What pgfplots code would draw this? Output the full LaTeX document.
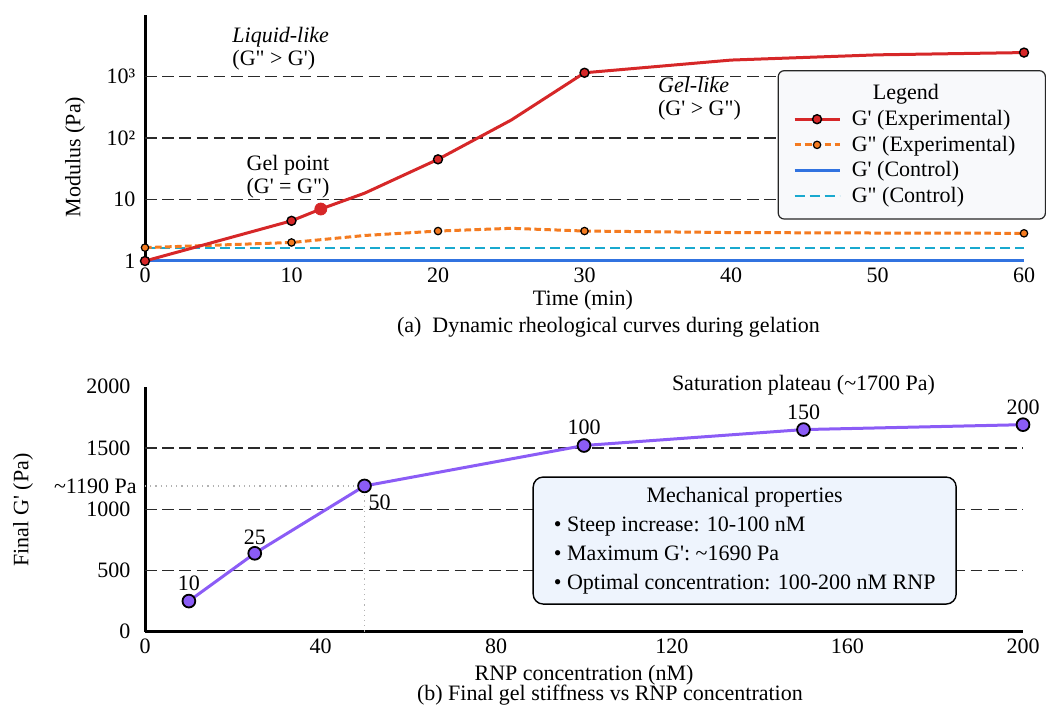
\documentclass[border=0pt]{standalone}
\usepackage{fontspec}
\setmainfont{Liberation Serif}[Ligatures=TeXOff]
\usepackage{pgfplots}
\pgfplotsset{compat=1.18}
\definecolor{cRed}{HTML}{D62728}
\definecolor{cOrange}{HTML}{F47B20}
\definecolor{cBlue}{HTML}{3173E0}
\definecolor{cCyan}{HTML}{19A9CF}
\definecolor{cPurple}{HTML}{8B5CF6}
\definecolor{cGrid}{HTML}{2A2A2A}
\definecolor{legfill}{HTML}{F8F9FB}
\definecolor{boxfill}{HTML}{EEF4FD}
\newcommand{\fs}{\fontsize{11}{12.5}\selectfont}
\pgfplotsset{
 gpexp/.style={cRed, line width=1.5pt, mark=*, mark size=2.25pt, mark options={solid, fill=cRed, draw=black, line width=0.7pt}},
 gppexp/.style={cOrange, line width=1.5pt, dash pattern=on 3.3pt off 1.7pt, mark=*, mark size=1.85pt, mark options={solid, fill=cOrange, draw=black, line width=0.6pt}},
 gpctl/.style={cBlue, line width=1.5pt},
 gppctl/.style={cCyan, line width=1pt, dash pattern=on 5pt off 2.5pt},
 common/.style={
   scale only axis, anchor=south west,
   axis x line*=bottom, axis y line*=left,
   axis line style={-, line width=1.5pt, black},
   major tick length=0pt, minor tick length=0pt,
   tick label style={font=\fs},
   /pgf/number format/assume math mode=true,
   /pgf/number format/1000 sep={},
   clip=false,
   extra y tick labels={},
   extra y tick style={grid=major, major grid style={dash pattern=on 5.8pt off 2.8pt, line width=0.65pt, cGrid}},
 },
}
\begin{document}
\begin{tikzpicture}[x=1pt,y=1pt]
\useasboundingbox (0,0) rectangle (523.5,356);
% ---------- (a) ----------
\begin{axis}[common,
  at={(72.5pt,225.5pt)}, width=439.5pt, height=123pt,
  xmin=0, xmax=60, ymode=log, ymin=1, ymax=1e4,
  xtick={0,10,...,60},
  ytick={1,10,100,1000}, yticklabels={1,10,10²,10³},
  extra y ticks={10,100,1000},
  yticklabel style={xshift=-1.3pt},
  legend image code/.code={\draw[mark repeat=2,mark phase=2,#1] plot coordinates {(0pt,0pt) (11.25pt,0pt) (22.5pt,0pt)};},
  legend style={at={(1.025,0.776)}, anchor=north east, draw=black!85, fill=legfill,
     rounded corners=3pt, line width=0.6pt, font=\fs, inner xsep=7.4pt, inner ysep=5pt,
     row sep=0pt, cells={anchor=west}, nodes={inner xsep=1.6pt, inner ysep=1.85pt},
     /tikz/every odd column/.append style={column sep=3.8pt}},
  legend entries={\rule{10.5pt}{0pt}Legend, G' (Experimental), G\textquotedbl{} (Experimental)\rule{6pt}{0pt}, G' (Control), G\textquotedbl{} (Control)},
]
\addlegendimage{empty legend}
\addlegendimage{gpexp}
\addlegendimage{gppexp}
\addlegendimage{gpctl}
\addlegendimage{gppctl}
\addplot[gpctl, forget plot] coordinates {(0,1.02) (60,1.02)};
\addplot[gppctl, forget plot] coordinates {(0,1.62) (60,1.62)};
\addplot[gppexp, forget plot, mark indices={1,2,4,6,9}] coordinates {
 (0,1.65) (10,2.0) (15,2.6) (20,3.07) (25,3.4) (30,3.07) (40,2.9) (50,2.85) (60,2.82)};
\addplot[gpexp, forget plot, mark indices={1,2,5,7,10}] coordinates {
 (0,1) (10,4.5) (12,7.0) (15,12.7) (20,45) (25,196) (30,1150) (40,1850) (50,2250) (60,2450)};
\addplot[forget plot, only marks, mark=*, mark size=3pt, color=cRed] coordinates {(12,7.0)};
\node[anchor=west, align=left, font=\fontsize{11}{11.5}\selectfont, inner sep=0pt] at (axis cs:5.94,2850) {\textit{Liquid-like}\\(G\textquotedbl{} > G')};
\node[align=center, font=\fontsize{11}{11.5}\selectfont, inner sep=0pt] at (axis cs:9.76,23.7) {Gel point\\(G' = G\textquotedbl)};
\node[anchor=west, align=left, font=\fontsize{11}{11.5}\selectfont, inner sep=0pt] at (axis cs:35.0,439) {\textit{Gel-like}\\(G' > G\textquotedbl)};
\end{axis}
\node[rotate=90, font=\fs] at (37.5,277.5) {Modulus (Pa)};
\node[font=\fs] at (291.5,206) {Time (min)};
\node[anchor=west, font=\fs] at (195,192.5) {(a)\ \ Dynamic rheological curves during gelation};
% ---------- (b) ----------
\begin{axis}[common,
  at={(72.5pt,40.15pt)}, width=439pt, height=122.5pt,
  xmin=0, xmax=200, ymin=0, ymax=2000,
  xtick={0,40,...,200}, ytick={0,500,...,2000},
  extra y ticks={500,1000,1500},
  yticklabel style={xshift=-3.8pt},
]
\addplot[gray!60, dotted, line width=0.6pt] coordinates {(0,1190) (50,1190) (50,0)};
\addplot[cPurple, line width=1.5pt, mark=*, mark size=3.2pt, mark options={fill=cPurple, draw=black, line width=0.9pt}] coordinates {
 (10,250) (25,640) (50,1190) (100,1520) (150,1650) (200,1690)};
\node[font=\fs] at (axis cs:10,250) [yshift=9pt] {10};
\node[font=\fs] at (axis cs:25,640) [yshift=8pt] {25};
\node[font=\fs] at (axis cs:50,1190) [xshift=7.5pt, yshift=-8pt] {50};
\node[font=\fs] at (axis cs:100,1520) [yshift=9pt] {100};
\node[font=\fs] at (axis cs:150,1650) [yshift=8.5pt] {150};
\node[font=\fs] at (axis cs:200,1690) [yshift=8.5pt] {200};
\node[font=\fs] at (axis cs:150,2013) {Saturation plateau (\textasciitilde 1700 Pa)};
\node[anchor=east, inner sep=0pt, font=\fs] at (axis cs:0,1190) [xshift=-4pt] {\textasciitilde 1190 Pa};
\node[draw=black, line width=0.7pt, rounded corners=5pt, fill=boxfill, minimum width=211.5pt, minimum height=63.5pt, inner sep=0pt, font=\fontsize{11}{12.08}\selectfont] at (axis cs:136.6,744) {%
 \renewcommand{\arraystretch}{1.2}%
 \begin{tabular}{@{}l@{}}
 \multicolumn{1}{@{}c@{}}{Mechanical properties}\\
 \textbullet\ Steep increase: 10-100 nM\\
 \textbullet\ Maximum G': \textasciitilde 1690 Pa\\
 \textbullet\ Optimal concentration: 100-200 nM RNP
 \end{tabular}};
\end{axis}
\node[rotate=90, font=\fs] at (11.5,101) {Final G' (Pa)};
\node[font=\fs] at (292,18.5) {RNP concentration (nM)};
\node[anchor=west, font=\fs] at (205,8.5) {(b) Final gel stiffness vs RNP concentration};
\end{tikzpicture}
\end{document}
